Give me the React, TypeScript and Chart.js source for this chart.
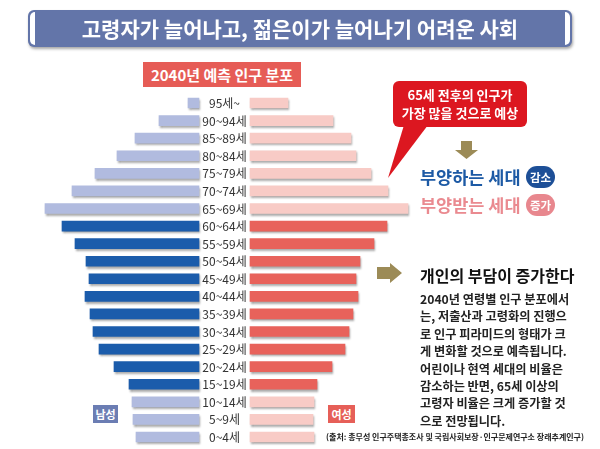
import React, { useEffect, useRef } from "react";
import { Chart, registerables } from "chart.js";

Chart.register(...registerables);

// 2040년 예측 인구 분포 (연령 계층별, 상대 규모)
const AGE_GROUPS = [
  "95세~", "90~94세", "85~89세", "80~84세", "75~79세", "70~74세", "65~69세",
  "60~64세", "55~59세", "50~54세", "45~49세", "40~44세", "35~39세", "30~34세",
  "25~29세", "20~24세", "15~19세", "10~14세", "5~9세", "0~4세",
];
const MALE_VALUES = [11, 40, 64, 82, 104, 127, 154, 137, 124, 113, 110, 114, 109, 106, 100, 85, 70, 67, 66, 63];
const FEMALE_VALUES = [38, 83, 101, 106, 121, 138, 158, 137, 124, 110, 106, 108, 103, 99, 95, 82, 67, 64, 63, 64];
// 생산가능인구(15~64세) 여부
const WORKING_AGE = [
  false, false, false, false, false, false, false,
  true, true, true, true, true, true, true, true, true, true,
  false, false, false,
];

const BODY_LINES = [
  "2040년 연령별 인구 분포에서",
  "는, 저출산과 고령화의 진행으",
  "로 인구 피라미드의 형태가 크",
  "게 변화할 것으로 예측됩니다.",
  "어린이나 현역 세대의 비율은",
  "감소하는 반면, 65세 이상의",
  "고령자 비율은 크게 증가할 것",
  "으로 전망됩니다.",
];

const FONT = "'Noto Sans CJK KR', 'Noto Sans', sans-serif";
const GAP = 25.5; // half of the centre column reserved for the age labels

const MALE_DARK = "#1b5cab";
const MALE_LIGHT = "#b1bbdf";
const FEMALE_DARK = "#e8625b";
const FEMALE_LIGHT = "#f8cbc6";

const pyramidPlugin = {
  id: "pyramidDecor",
  beforeDatasetsDraw(chart: any) {
    const ctx = chart.ctx;
    ctx.save();
    ctx.shadowColor = "rgba(0,0,0,0.35)";
    ctx.shadowOffsetX = 1;
    ctx.shadowOffsetY = 2;
    ctx.shadowBlur = 2;
  },
  afterDatasetsDraw(chart: any) {
    const ctx = chart.ctx;
    ctx.restore();
    const x = chart.scales.x.getPixelForValue(0);
    const yScale = chart.scales.y;
    ctx.save();
    ctx.font = `400 12px ${FONT}`;
    ctx.fillStyle = "#333";
    ctx.textAlign = "center";
    ctx.textBaseline = "middle";
    AGE_GROUPS.forEach((label, i) => {
      ctx.fillText(label, x, yScale.getPixelForValue(i) + 0.5);
    });
    ctx.restore();
  },
};

function PyramidChart() {
  const ref = useRef<HTMLCanvasElement | null>(null);
  useEffect(() => {
    if (!ref.current) return;
    const chart = new Chart(ref.current, {
      type: "bar",
      data: {
        labels: AGE_GROUPS,
        datasets: [
          {
            label: "남성",
            data: MALE_VALUES.map((v) => [-GAP - v, -GAP]) as any,
            backgroundColor: WORKING_AGE.map((w) => (w ? MALE_DARK : MALE_LIGHT)),
            barThickness: 10,
            grouped: false,
            borderWidth: 0,
          } as any,
          {
            label: "여성",
            data: FEMALE_VALUES.map((v) => [GAP, GAP + v]) as any,
            backgroundColor: WORKING_AGE.map((w) => (w ? FEMALE_DARK : FEMALE_LIGHT)),
            barThickness: 10,
            grouped: false,
            borderWidth: 0,
          } as any,
        ],
      },
      options: {
        indexAxis: "y",
        responsive: false,
        animation: false,
        layout: { padding: { left: 24.5, right: 175.5, top: 94.2, bottom: 3.2 } },
        scales: {
          x: { type: "linear", min: -200, max: 200, display: false },
          y: { display: false, offset: true },
        },
        plugins: { legend: { display: false }, tooltip: { enabled: false } },
      },
      plugins: [pyramidPlugin],
    });
    return () => chart.destroy();
  }, []);
  return (
    <canvas
      ref={ref}
      width={600}
      height={449}
      style={{ position: "absolute", left: 0, top: 0, width: 600, height: 449 }}
    />
  );
}

const abs = (s: React.CSSProperties): React.CSSProperties => ({ position: "absolute", ...s });

export default function App() {
  return (
    <div
      style={{
        position: "absolute",
        left: 0,
        top: 0,
        width: 600,
        height: 449,
        background: "#fff",
        overflow: "hidden",
        fontFamily: FONT,
      }}
    >
      <PyramidChart />

      {/* title banner */}
      <div
        style={abs({
          left: 28,
          top: 10,
          width: 544,
          height: 37,
          background: "#6375a9",
          borderRadius: 6,
          boxShadow: "1px 2px 3px rgba(0,0,0,0.35)",
        })}
      >
        <div style={abs({ left: 2, top: 2, width: 5, height: 33, background: "#fff", borderRadius: "5px 0 0 5px" })} />
        <div style={abs({ right: 2, top: 2, width: 5, height: 33, background: "#fff", borderRadius: "0 5px 5px 0" })} />
        <div
          style={{
            textAlign: "center",
            color: "#fff",
            fontWeight: 700,
            fontSize: 21,
            lineHeight: "37px",
            whiteSpace: "nowrap",
          }}
        >
          고령자가 늘어나고, 젊은이가 늘어나기 어려운 사회
        </div>
      </div>

      {/* chart caption */}
      <div
        style={abs({
          left: 143,
          top: 62,
          width: 158,
          height: 25,
          background: "#e65c56",
          color: "#fff",
          fontWeight: 700,
          fontSize: 15,
          lineHeight: "25px",
          textAlign: "center",
          whiteSpace: "nowrap",
        })}
      >
        2040년 예측 인구 분포
      </div>

      {/* gender tags */}
      <div
        style={abs({
          left: 93, top: 405, width: 25, height: 18, background: "#6b7db3", color: "#fff",
          fontSize: 11, fontWeight: 700, lineHeight: "18px", textAlign: "center",
        })}
      >
        남성
      </div>
      <div
        style={abs({
          left: 328, top: 405, width: 27, height: 18, background: "#e65f58", color: "#fff",
          fontSize: 11, fontWeight: 700, lineHeight: "18px", textAlign: "center",
        })}
      >
        여성
      </div>

      {/* callout and arrows */}
      <svg width={600} height={449} style={abs({ left: 0, top: 0 })}>
        <rect x={393} y={81} width={134} height={46} rx={6} fill="#dc1720" />
        <polygon points="404,125 428,125 388,178" fill="#dc1720" />
        <polygon points="461,141 472,141 472,150 478,150 466.5,159 455,150 461,150" fill="#9c8b57" />
        <polygon points="377,267 390,267 390,263 402,273 390,283 390,279 377,279" fill="#9c8b57" />
      </svg>
      <div
        style={abs({
          left: 393, top: 86, width: 134, color: "#fff", fontWeight: 700, fontSize: 13,
          lineHeight: "18px", textAlign: "center", whiteSpace: "nowrap",
        })}
      >
        65세 전후의 인구가
        <br />
        가장 많을 것으로 예상
      </div>

      <div
        style={abs({
          left: 420, top: 165, color: "#1d5aa5", fontWeight: 700, fontSize: 17.5,
          lineHeight: "24px", whiteSpace: "nowrap",
        })}
      >
        부양하는 세대
      </div>
      <div
        style={abs({
          left: 526, top: 166, width: 29, height: 22, borderRadius: 11, background: "#1d4f97",
          color: "#fff", fontSize: 11.5, fontWeight: 700, lineHeight: "22px", textAlign: "center",
        })}
      >
        감소
      </div>
      <div
        style={abs({
          left: 420, top: 193, color: "#ea8a90", fontWeight: 700, fontSize: 17.5,
          lineHeight: "24px", whiteSpace: "nowrap",
        })}
      >
        부양받는 세대
      </div>
      <div
        style={abs({
          left: 526, top: 194, width: 29, height: 22, borderRadius: 11, background: "#e8878e",
          color: "#fff", fontSize: 11.5, fontWeight: 700, lineHeight: "22px", textAlign: "center",
        })}
      >
        증가
      </div>

      {/* commentary */}
      <div
        style={abs({
          left: 420, top: 264, color: "#111", fontWeight: 700, fontSize: 16,
          lineHeight: "22px", whiteSpace: "nowrap",
        })}
      >
        개인의 부담이 증가한다
      </div>
      {BODY_LINES.map((line, i) => (
        <div
          key={i}
          style={abs({
            left: 420, top: 291 + i * 17.4, color: "#222", fontWeight: 700, fontSize: 12.2,
            lineHeight: "17px", whiteSpace: "nowrap",
          })}
        >
          {line}
        </div>
      ))}
      <div
        style={abs({
          left: 326, top: 431, color: "#222", fontWeight: 700, fontSize: 8,
          lineHeight: "12px", whiteSpace: "nowrap",
        })}
      >
        (출처: 총무성 인구주택총조사 및 국립사회보장·인구문제연구소 장래추계인구)
      </div>
    </div>
  );
}
